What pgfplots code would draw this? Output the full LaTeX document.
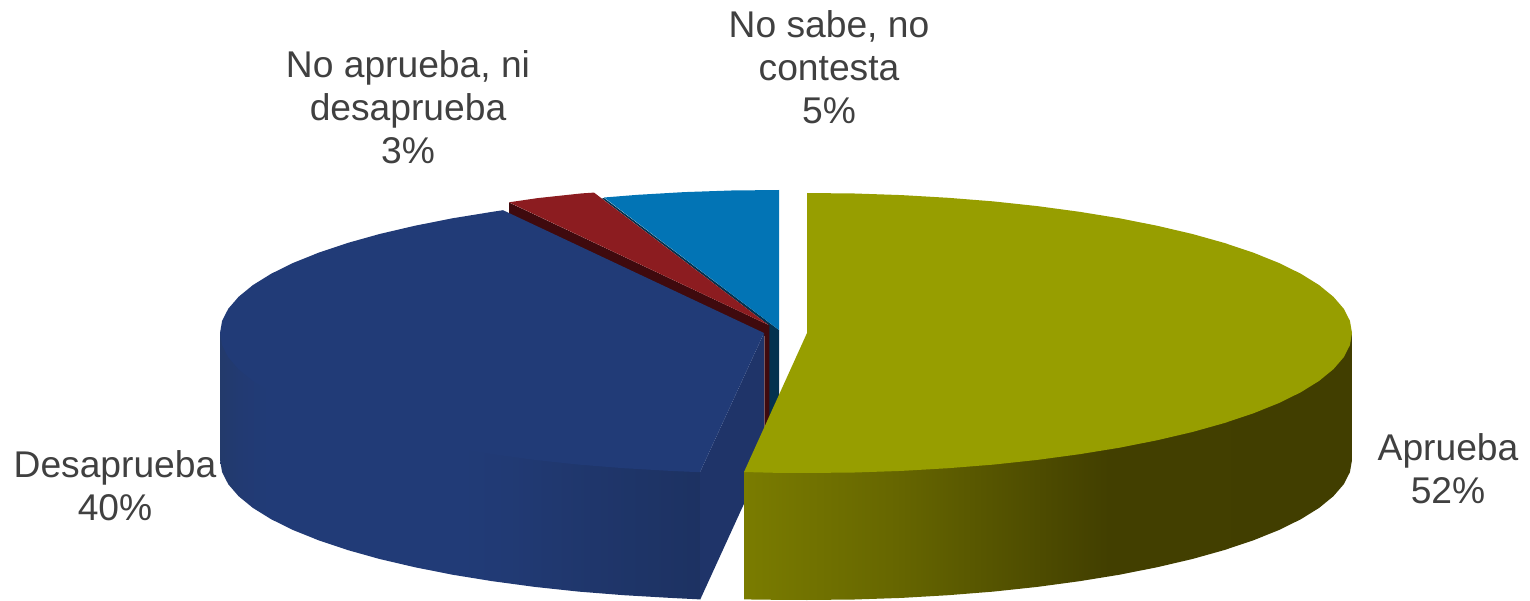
\documentclass[border=0pt]{standalone}
\usepackage{fontspec}
\setmainfont{Liberation Sans}
\usepackage{pgfplots}
\pgfplotsset{compat=1.18}

\definecolor{labeltext}{HTML}{404040}
\definecolor{oliveTop}{HTML}{979E00}
\definecolor{navyTop}{HTML}{213B77}
\definecolor{navyWall}{HTML}{1F3469}
\definecolor{redTop}{HTML}{8C1C20}
\definecolor{redWall}{HTML}{3F0A0E}
\definecolor{blueTop}{HTML}{0274B5}
\definecolor{blueWall}{HTML}{03324F}

\definecolor{olA}{HTML}{7A7C00}
\definecolor{olB}{HTML}{666600}
\definecolor{olC}{HTML}{4C4A00}
\definecolor{olD}{HTML}{423F00}
\definecolor{olE}{HTML}{413E00}
\definecolor{nvA}{HTML}{233A6B}
\definecolor{nvB}{HTML}{223A72}
\definecolor{nvC}{HTML}{213B77}
\definecolor{nvD}{HTML}{213A74}
\definecolor{nvE}{HTML}{1F366B}
\definecolor{nvF}{HTML}{1D3262}

% the path's box covers 25bp..75bp of the shading
\pgfdeclarehorizontalshading{oliveside}{100bp}{%
  color(0bp)=(olA); color(25bp)=(olA); color(37.5bp)=(olB);
  color(50bp)=(olC); color(55bp)=(olD); color(75bp)=(olE); color(100bp)=(olE)}
\pgfdeclarehorizontalshading{navyside}{100bp}{%
  color(0bp)=(nvA); color(25bp)=(nvA); color(27bp)=(nvB); color(30bp)=(nvC);
  color(50bp)=(nvC); color(55bp)=(nvD); color(64bp)=(nvE); color(75bp)=(nvF); color(100bp)=(nvF)}

\tikzset{lbl/.style={
    font=\fontsize{37.2}{43}\selectfont,
    text=labeltext, align=center, inner sep=0pt}}

\begin{document}
\begin{tikzpicture}
\path[use as bounding box] (0,0) rectangle (1530pt,601pt);
\begin{axis}[
    at={(0,0)}, anchor=south west,
    scale only axis,
    width=1530pt, height=601pt,
    xmin=0, xmax=1530,
    ymin=0, ymax=601,
    y dir=reverse,
    hide axis,
    clip=false,
  ]

  % No sabe, no contesta
  \addplot[fill=blueWall, draw=none] coordinates {
    (604,198) (779,330) (779,400) (769,425) (768.5,325) (602,198.5)
  } --cycle;
  \addplot[fill=blueTop, draw=none] coordinates {
    (604,197.5) (637.9,194.8) (684.4,192.1) (731.5,190.5) (779,190) (779,330)
  } --cycle;

  % No aprueba, ni desaprueba
  \addplot[fill=redWall, draw=none] coordinates {
    (509,202.5) (768.5,325) (769.3,325) (769.3,435) (764.3,435) (764.3,336) (509,214)
  } --cycle;
  \addplot[fill=redTop, draw=none] coordinates {
    (509,202.3) (537.7,198.1) (581.6,193.4) (594,192.6) (768.5,325)
  } --cycle;

  % Desaprueba
  \addplot[fill=navyWall, draw=none] coordinates {
    (764,333) (700,472.2) (700,600) (764,460)
  } --cycle;
  \addplot[shade, shading=navyside, draw=none] coordinates {
    (220,333) (220,460) (222.1,472.2) (228.3,484.3) (238.6,496.2) (252.9,507.9)
    (271.1,519.2) (293,530) (318.6,540.3) (347.5,550) (379.6,559) (414.7,567.2)
    (452.4,574.7) (492.5,581.2) (534.7,586.9) (578.6,591.6) (623.9,595.2)
    (670.4,597.9) (700,599.4) (700,472.2)
  } --cycle;
  \addplot[fill=navyTop, draw=none] coordinates {
    (503,210.2) (492.5,211.8) (452.4,218.3) (414.7,225.8) (379.6,234) (347.5,243)
    (318.6,252.7) (293,263) (271.1,273.8) (252.9,285.1) (238.6,296.8) (228.3,308.7)
    (222.1,320.8) (220,333) (222.1,345.2) (228.3,357.3) (238.6,369.2) (252.9,380.9)
    (271.1,392.2) (293,403) (318.6,413.3) (347.5,423) (379.6,432) (414.7,440.2)
    (452.4,447.7) (492.5,454.2) (534.7,459.9) (578.6,464.6) (623.9,468.2)
    (670.4,470.9) (700,472.2) (764,333)
  } --cycle;

  % Aprueba
  \addplot[shade, shading=oliveside, draw=none] coordinates {
    (1352,333) (1352,460) (1349.9,472.2) (1343.7,484.3) (1333.4,496.2) (1319.1,507.9)
    (1300.9,519.2) (1279,530) (1253.4,540.3) (1224.5,550) (1192.4,559) (1157.3,567.2)
    (1119.6,574.7) (1079.5,581.2) (1037.3,586.9) (993.4,591.6) (948.1,595.2)
    (901.6,597.9) (854.5,599.5) (807,600) (775,599.8) (744,599.4) (744,472)
  } --cycle;
  \addplot[fill=oliveTop, draw=none] coordinates {
    (807,333) (807,193) (854.5,193.5) (901.6,195.1) (948.1,197.8) (993.4,201.4)
    (1037.3,206.1) (1079.5,211.8) (1119.6,218.3) (1157.3,225.8) (1192.4,234)
    (1224.5,243) (1253.4,252.7) (1279,263) (1300.9,273.8) (1319.1,285.1)
    (1333.4,296.8) (1343.7,308.7) (1349.9,320.8) (1352,333) (1349.9,345.2)
    (1343.7,357.3) (1333.4,369.2) (1319.1,380.9) (1300.9,392.2) (1279,403)
    (1253.4,413.3) (1224.5,423) (1192.4,432) (1157.3,440.2) (1119.6,447.7)
    (1079.5,454.2) (1037.3,459.9) (993.4,464.6) (948.1,468.2) (901.6,470.9)
    (854.5,472.5) (807,473) (775,472.8) (744,472)
  } --cycle;

  % Labels
  \node[lbl] at (axis cs:829,67) {No sabe, no\\contesta\\5\%};
  \node[lbl] at (axis cs:408,107) {No aprueba, ni\\desaprueba\\3\%};
  \node[lbl] at (axis cs:115,486) {Desaprueba\\40\%};
  \node[lbl] at (axis cs:1448,469) {Aprueba\\52\%};
\end{axis}
\end{tikzpicture}
\end{document}
